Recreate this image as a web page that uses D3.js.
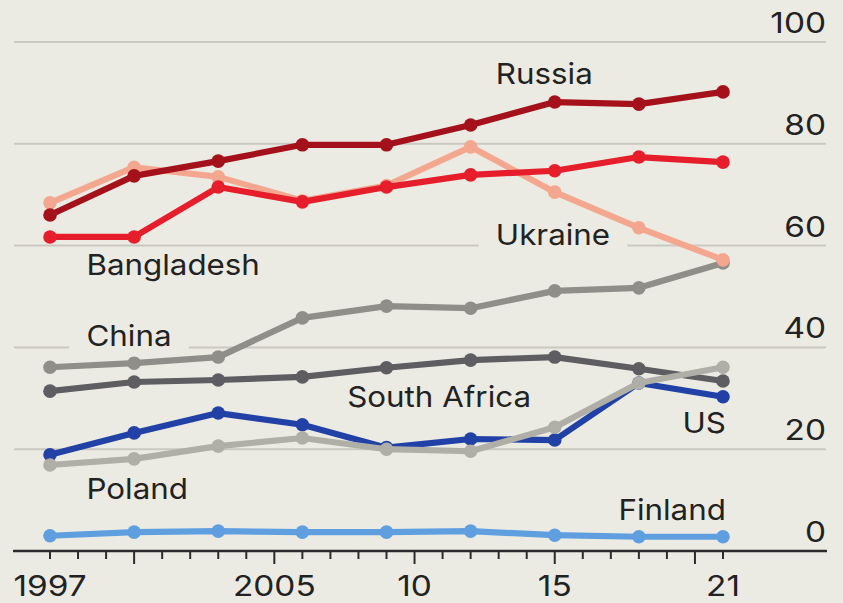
<!DOCTYPE html>
<html>
<head>
<meta charset="utf-8">
<script src="https://cdn.jsdelivr.net/npm/d3@7"></script>
<style>
  html, body { margin: 0; padding: 0; background: #ecebe3; }
  svg { display: block; }
  text { font-family: Inter, "Liberation Sans", Arial, sans-serif; fill: #222; }
</style>
</head>
<body>
<svg id="chart" width="843" height="603"></svg>
<script>
// Survey years
const years = [1997, 2000, 2003, 2006, 2009, 2012, 2015, 2018, 2021];

// Share of respondents, % (one array per country)
const russia      = [66.0, 73.7, 76.6, 79.8, 79.8, 83.7, 88.2, 87.8, 90.2];
const ukraine     = [68.4, 75.4, 73.5, 68.8, 71.8, 79.4, 70.5, 63.5, 57.2];
const bangladesh  = [61.7, 61.7, 71.5, 68.6, 71.5, 73.9, 74.7, 77.4, 76.4];
const china       = [36.1, 36.9, 38.1, 45.8, 48.1, 47.7, 51.1, 51.7, 56.6];
const southAfrica = [31.4, 33.2, 33.6, 34.2, 36.0, 37.5, 38.1, 35.8, 33.4];
const us          = [18.9, 23.2, 27.1, 24.8, 20.3, 22.0, 21.8, 33.0, 30.3];
const poland      = [16.9, 18.1, 20.6, 22.2, 20.0, 19.6, 24.3, 33.0, 36.1];
const finland     = [3.0, 3.7, 3.9, 3.7, 3.7, 3.9, 3.1, 2.8, 2.8];

// Axis ticks
const yTicks = [0, 20, 40, 60, 80, 100];
const xTickYears = [1997, 2005, 2010, 2015, 2021];
const xTickLabels = ["1997", "2005", "10", "15", "21"];

// Series, bottom of the stack first
const series = [
  { name: "Finland",      values: finland,     color: "#5f9fe0" },
  { name: "China",        values: china,       color: "#8f8e88" },
  { name: "South Africa", values: southAfrica, color: "#5d5d62" },
  { name: "US",           values: us,          color: "#2241a6" },
  { name: "Poland",       values: poland,      color: "#afaea7" },
  { name: "Ukraine",      values: ukraine,     color: "#f4a78f" },
  { name: "Bangladesh",   values: bangladesh,  color: "#e61e2b" },
  { name: "Russia",       values: russia,      color: "#a5111b" }
];

// Where each country name sits, in data coordinates
const labelLayout = [
  { text: "Russia",       year: 2012.9, value: 91.7, anchor: "start" },
  { text: "Ukraine",      year: 2012.9, value: 60.1, anchor: "start", knockout: true },
  { text: "Bangladesh",   year: 1998.3, value: 54.2, anchor: "start" },
  { text: "China",        year: 1998.3, value: 40.2, anchor: "start", knockout: true },
  { text: "South Africa", year: 2007.6, value: 28.3, anchor: "start" },
  { text: "US",           year: 2021.1, value: 23.2, anchor: "end" },
  { text: "Poland",       year: 1998.3, value: 10.2, anchor: "start" },
  { text: "Finland",      year: 2021.1, value: 6.1,  anchor: "end" }
];

const W = 843, H = 603;
const bg = "#ecebe3";
const fontSize = 29;
const wordStretch = 1.08;   // slightly wide lettering for names
const digitStretch = 1.15;  // and wider numerals on the axes

const svg = d3.select("#chart");
svg.append("rect").attr("width", W).attr("height", H).attr("fill", bg);

const x = d3.scaleLinear().domain([1997, 2021]).range([50, 723]);
const y = d3.scaleLinear().domain([0, 100]).range([551, 42]);

const gridLeft = 14, gridRight = 826;

// Place a text at (px, py) with horizontal stretch
function placeText(sel, px, py, stretch) {
  return sel.attr("x", 0).attr("y", 0)
    .attr("transform", (d, i) => `translate(${px(d, i)},${py(d, i)}) scale(${stretch},1)`);
}

// Horizontal gridlines
svg.append("g")
  .selectAll("line")
  .data(yTicks.filter(d => d > 0))
  .join("line")
  .attr("x1", gridLeft).attr("x2", gridRight)
  .attr("y1", d => y(d)).attr("y2", d => y(d))
  .attr("stroke", "#cac8bf")
  .attr("stroke-width", 2);

// Y tick labels, right-aligned above each gridline
placeText(
  svg.append("g").selectAll("text").data(yTicks).join("text"),
  () => gridRight, d => y(d) - 9, digitStretch)
  .attr("text-anchor", "end")
  .style("font-size", fontSize + "px")
  .text(d => d);

// Country labels (text drawn on top; knockouts go under the lines)
const labelG = svg.append("g");
const knockG = svg.insert("g", () => labelG.node());

const labelSel = placeText(
  labelG.selectAll("text").data(labelLayout).join("text"),
  d => x(d.year), d => y(d.value), wordStretch)
  .attr("text-anchor", d => d.anchor)
  .style("font-size", fontSize + "px")
  .text(d => d.text);

labelSel.each(function(d) {
  if (!d.knockout) return;
  const b = this.getBBox();
  knockG.append("rect")
    .attr("transform", this.getAttribute("transform"))
    .attr("x", b.x - 16).attr("y", b.y)
    .attr("width", b.width + 32).attr("height", b.height)
    .attr("fill", bg);
});

// Lines and dots
const lineGen = d3.line()
  .x((d, i) => x(years[i]))
  .y(d => y(d));

const seriesG = svg.insert("g", () => labelG.node())
  .selectAll("g")
  .data(series)
  .join("g");

seriesG.append("path")
  .attr("d", d => lineGen(d.values))
  .attr("fill", "none")
  .attr("stroke", d => d.color)
  .attr("stroke-width", 6.2)
  .attr("stroke-linejoin", "round")
  .attr("stroke-linecap", "round");

seriesG.selectAll("circle")
  .data(d => d.values.map((v, i) => ({ v, i, color: d.color })))
  .join("circle")
  .attr("cx", d => x(years[d.i]))
  .attr("cy", d => y(d.v))
  .attr("r", 6.8)
  .attr("fill", d => d.color);

// X axis: baseline, yearly ticks, longer ticks every five years
const axisY = y(0);
const axisG = svg.append("g");
axisG.append("line")
  .attr("x1", gridLeft - 1).attr("x2", gridRight + 1)
  .attr("y1", axisY).attr("y2", axisY)
  .attr("stroke", "#2b2b2b")
  .attr("stroke-width", 2.5);

axisG.selectAll("line.tick")
  .data(d3.range(1997, 2022))
  .join("line")
  .attr("class", "tick")
  .attr("x1", d => x(d)).attr("x2", d => x(d))
  .attr("y1", axisY)
  .attr("y2", d => axisY + (d % 5 === 0 ? 13 : 8))
  .attr("stroke", "#2b2b2b")
  .attr("stroke-width", 2);

placeText(
  axisG.selectAll("text").data(xTickYears).join("text"),
  d => x(d), () => 596, digitStretch)
  .attr("text-anchor", "middle")
  .style("font-size", fontSize + "px")
  .text((d, i) => xTickLabels[i]);
</script>
</body>
</html>
